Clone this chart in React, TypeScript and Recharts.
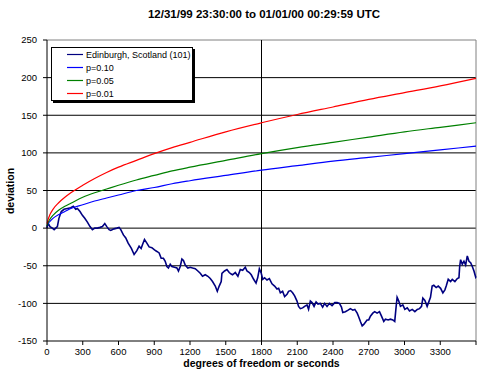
import React from 'react';
import { ComposedChart, Line, XAxis, YAxis, ReferenceLine, Legend } from 'recharts';

// random walk (seconds, cumulative deviation)
const walkSeconds = [
  0, 8, 25, 45, 60, 73, 87, 100, 120, 143, 171, 199, 221, 241, 255, 277, 297, 317, 339, 361,
  381, 401, 423, 445, 465, 485, 502, 521, 535, 563, 586, 605, 619, 641, 661, 681, 708, 731, 754, 773,
  790, 801, 818, 838, 857, 880, 902, 922, 941, 958, 977, 992, 1006, 1019, 1034, 1048, 1070, 1090, 1103, 1118,
  1132, 1145, 1160, 1182, 1202, 1222, 1244, 1266, 1286, 1305, 1328, 1350, 1370, 1389, 1412, 1429, 1445, 1462, 1468, 1490,
  1510, 1529, 1546, 1557, 1580, 1602, 1622, 1642, 1664, 1678, 1698, 1714, 1734, 1754, 1768, 1782, 1798, 1810, 1826, 1846,
  1866, 1888, 1910, 1930, 1944, 1958, 1977, 1994, 2014, 2027, 2044, 2061, 2078, 2098, 2111, 2126, 2145, 2162, 2182, 2195,
  2210, 2224, 2241, 2258, 2274, 2294, 2313, 2330, 2350, 2370, 2392, 2415, 2435, 2454, 2471, 2482, 2504, 2527, 2546, 2566,
  2583, 2603, 2616, 2630, 2645, 2658, 2672, 2686, 2700, 2714, 2734, 2750, 2770, 2790, 2807, 2826, 2840, 2863, 2882, 2902,
  2918, 2930, 2938, 2952, 2966, 2986, 3003, 3023, 3042, 3065, 3087, 3107, 3126, 3143, 3154, 3171, 3190, 3204, 3218, 3232,
  3246, 3266, 3283, 3303, 3322, 3339, 3350, 3367, 3387, 3401, 3423, 3443, 3457, 3463, 3471, 3485, 3499, 3513, 3527, 3541,
  3555, 3569, 3583, 3597, 3600,
];
const walkDeviation = [
  0, 7, 2, 0, -2, 0, 2, 13, 22, 25, 26, 27, 29, 25, 26, 22, 17, 13, 8, 2,
  -2, 0, 0, 1, 2, 6, 2, -2, -3, -1, 0, 1, -2, -9, -13, -20, -27, -35, -30, -24,
  -27, -22, -15, -20, -25, -26, -29, -31, -33, -40, -40, -44, -51, -53, -48, -51, -52, -53, -57, -51,
  -41, -43, -49, -53, -52, -53, -54, -57, -60, -64, -62, -64, -67, -71, -77, -84, -77, -71, -60, -57,
  -55, -59, -61, -62, -59, -64, -55, -56, -52, -57, -59, -62, -68, -73, -66, -54, -60, -68, -66, -69,
  -67, -74, -77, -81, -80, -86, -84, -91, -88, -84, -83, -86, -90, -97, -104, -107, -106, -104, -102, -108,
  -97, -99, -104, -98, -101, -100, -105, -100, -104, -100, -103, -99, -99, -100, -105, -112, -111, -109, -107, -109,
  -108, -113, -118, -124, -130, -128, -125, -122, -122, -117, -113, -111, -113, -111, -117, -124, -121, -122, -121, -122,
  -124, -104, -92, -97, -104, -102, -108, -106, -110, -108, -111, -108, -107, -104, -93, -96, -104, -98, -92, -77,
  -76, -79, -77, -80, -86, -82, -77, -68, -71, -68, -71, -67, -66, -51, -42, -48, -44, -49, -37, -44,
  -46, -51, -57, -65, -64,
];

// significance envelopes
const curveSeconds = [1, 10, 25, 50, 100, 150, 200, 300, 400, 500, 600, 750, 900, 1050, 1200, 1500, 1800, 2100, 2400, 2700, 3000, 3300, 3600];
const p10 = [2, 6, 9, 13, 18, 22, 26, 31, 36, 40, 44, 50, 54, 59, 63, 70, 77, 83, 89, 94, 99, 104, 109];
const p05 = [3, 8, 12, 17, 24, 29, 33, 41, 47, 52, 57, 64, 70, 76, 81, 90, 99, 107, 114, 121, 128, 134, 140];
const p01 = [6, 12, 18, 25, 34, 41, 47, 57, 66, 74, 81, 90, 99, 107, 114, 128, 140, 151, 161, 171, 180, 189, 199];

const seriesNames = ['Edinburgh, Scotland (101)', 'p=0.10', 'p=0.05', 'p=0.01'];
const seriesColors = ['#000080', '#0000ff', '#008000', '#ff0000'];

const xTicks = [0, 300, 600, 900, 1200, 1500, 1800, 2100, 2400, 2700, 3000, 3300, 3600];
const yTicks = [-150, -100, -50, 0, 50, 100, 150, 200, 250];
const gridValues = [-100, -50, 0, 50, 100, 150, 200];

const FONT = '"Liberation Sans", Arial, sans-serif';

const walkData = walkSeconds.map((x, i) => ({ x, v: walkDeviation[i] }));
const toRows = (vals: number[]) => curveSeconds.map((x, i) => ({ x, v: vals[i] }));

// legend keeps the series order of the original, not recharts' sorted payload
const LegendBox = () => (
  <div
    style={{
      boxSizing: 'border-box',
      width: 142,
      border: '1px solid #000',
      background: '#fff',
      boxShadow: '2px 2px 0 #000',
      fontFamily: FONT,
      fontSize: 9,
      color: '#000',
    }}
  >
    {seriesNames.map((name, i) => (
      <div key={name} style={{ display: 'flex', alignItems: 'center', height: 13 }}>
        <svg width={16} height={3} style={{ marginLeft: 15, marginRight: 3 }}>
          <line x1={0} y1={1.5} x2={16} y2={1.5} stroke={seriesColors[i]} strokeWidth={1.2} />
        </svg>
        <span>{name}</span>
      </div>
    ))}
  </div>
);

export default function App() {
  return (
    <div style={{ position: 'absolute', left: 0, top: 0, width: 482, height: 378, background: '#fff', fontFamily: FONT }}>
      <div style={{ position: 'absolute', left: 0, width: 528, top: 8, textAlign: 'center', fontSize: 11.5, fontWeight: 'bold' }}>
        12/31/99 23:30:00 to 01/01/00 00:29:59 UTC
      </div>
      <ComposedChart width={482} height={378} margin={{ top: 40, right: 6, bottom: 0, left: 0 }}>
        {gridValues.map((g) => (
          <ReferenceLine key={g} y={g} stroke="#000" strokeWidth={1} />
        ))}
        <ReferenceLine y={250} stroke="#808080" />
        <ReferenceLine x={3600} stroke="#808080" />
        <XAxis
          dataKey="x"
          type="number"
          domain={[0, 3600]}
          ticks={xTicks}
          interval={0}
          height={37}
          tickSize={4}
          tickMargin={3}
          tickFormatter={(v: number) => (v === 3600 ? '' : String(v))}
          tick={{ fontSize: 9.5, fill: '#000', fontFamily: FONT }}
          axisLine={{ stroke: '#000' }}
          tickLine={{ stroke: '#000' }}
        />
        <YAxis
          type="number"
          domain={[-150, 250]}
          ticks={yTicks}
          interval={0}
          width={47}
          tickSize={4}
          tickMargin={6}
          tick={{ fontSize: 9.5, fill: '#000', fontFamily: FONT }}
          axisLine={{ stroke: '#000' }}
          tickLine={{ stroke: '#000' }}
        />
        <ReferenceLine x={1800} stroke="#000" />
        <Legend
          layout="vertical"
          align="center"
          verticalAlign="middle"
          content={<LegendBox />}
          wrapperStyle={{ left: 51, top: 47, width: 'auto', height: 'auto' }}
        />
        <Line name={seriesNames[0]} data={walkData} dataKey="v" type="linear" stroke={seriesColors[0]} strokeWidth={1.6} dot={false} isAnimationActive={false} />
        <Line name={seriesNames[1]} data={toRows(p10)} dataKey="v" type="monotone" stroke={seriesColors[1]} strokeWidth={1.2} dot={false} isAnimationActive={false} />
        <Line name={seriesNames[2]} data={toRows(p05)} dataKey="v" type="monotone" stroke={seriesColors[2]} strokeWidth={1.2} dot={false} isAnimationActive={false} />
        <Line name={seriesNames[3]} data={toRows(p01)} dataKey="v" type="monotone" stroke={seriesColors[3]} strokeWidth={1.2} dot={false} isAnimationActive={false} />
      </ComposedChart>
      <div
        style={{
          position: 'absolute',
          left: 10,
          top: 191,
          transform: 'translate(-50%, -50%) rotate(-90deg)',
          fontSize: 10.5,
          fontWeight: 'bold',
          whiteSpace: 'nowrap',
        }}
      >
        deviation
      </div>
      <div style={{ position: 'absolute', left: 47, width: 429, top: 357, textAlign: 'center', fontSize: 10.5, fontWeight: 'bold' }}>
        degrees of freedom or seconds
      </div>
    </div>
  );
}
